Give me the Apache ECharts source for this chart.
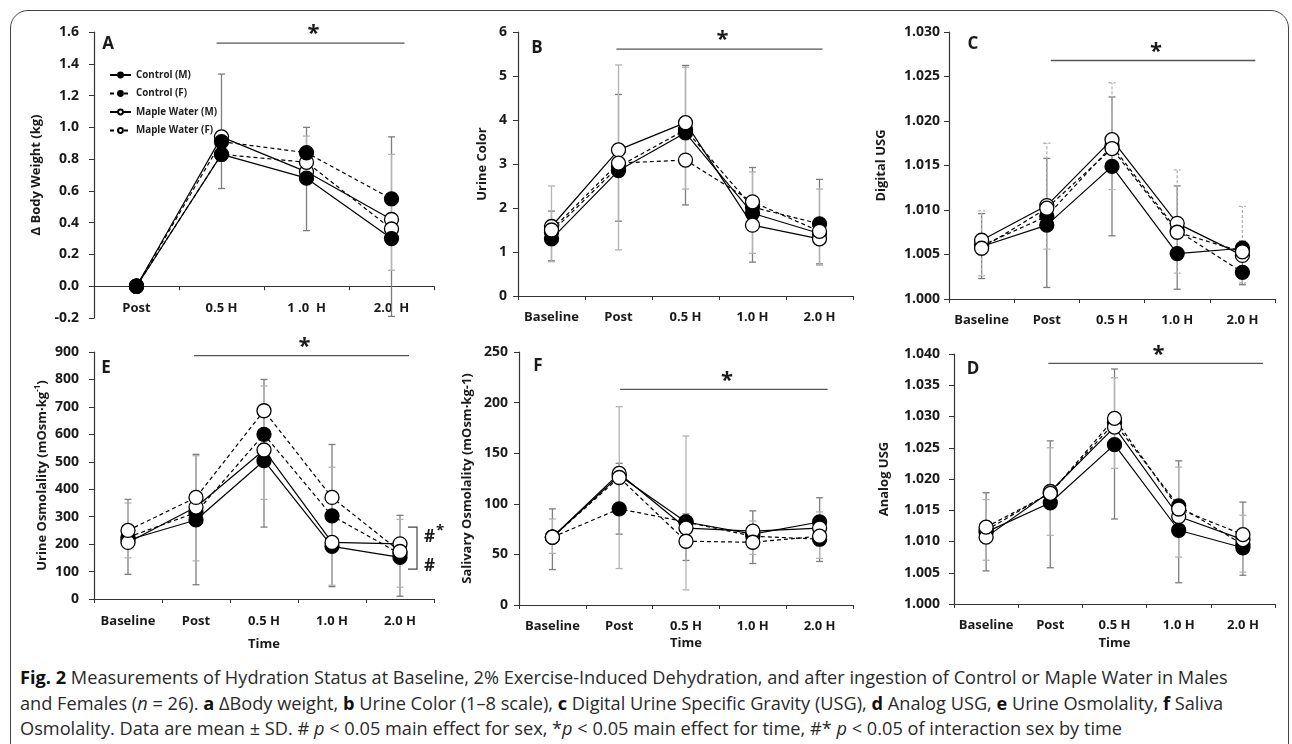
<!DOCTYPE html>
<html>
<head>
<meta charset="utf-8">
<script src="https://cdn.jsdelivr.net/npm/echarts@6/dist/echarts.min.js"></script>
<style>
  html, body { margin: 0; padding: 0; background: #fff; }
  #wrap { position: relative; width: 1292px; height: 744px; overflow: hidden; }
  #frame { position: absolute; left: 10px; top: 10px; width: 1279px; height: 800px;
           border: 1.4px solid #444; border-radius: 18px; box-sizing: border-box; }
  #chart { position: absolute; left: 0; top: 0; width: 1292px; height: 660px; }
  #cap { position: absolute; left: 20px; top: 665px; font-family: "Open Sans", sans-serif;
         font-size: 18.2px; line-height: 25.5px; color: #2a2a2a; white-space: nowrap; }
  #cap b { font-weight: bold; color: #111; }
</style>
</head>
<body>
<div id="wrap">
  <div id="frame"></div>
  <div id="chart"></div>
  <div id="cap">
    <b>Fig. 2</b> Measurements of Hydration Status at Baseline, 2% Exercise-Induced Dehydration, and after ingestion of Control or Maple Water in Males<br>
    and Females (<i>n</i> = 26). <b>a</b> ΔBody weight, <b>b</b> Urine Color (1–8 scale), <b>c</b> Digital Urine Specific Gravity (USG), <b>d</b> Analog USG, <b>e</b> Urine Osmolality, <b>f</b> Saliva<br>
    Osmolality. Data are mean ± SD. # <i>p</i> &lt; 0.05 main effect for sex, *<i>p</i> &lt; 0.05 main effect for time, #* <i>p</i> &lt; 0.05 of interaction sex by time
  </div>
</div>
<script>
// Series names (legend)
var seriesNames = ['Control (M)', 'Control (F)', 'Maple Water (M)', 'Maple Water (F)'];

// Categories
var catsA = ['Post', '0.5 H', '1 .0  H', '2.0  H'];
var cats = ['Baseline', 'Post', '0.5 H', '1.0 H', '2.0 H'];

// A - Body weight (kg); rows follow seriesNames
var weightMean = [
    [0, 0.83, 0.68, 0.30],
    [0, 0.91, 0.84, 0.55],
    [0, 0.94, 0.72, 0.42],
    [0, 0.83, 0.78, 0.36]
];
var weightErrDark = [null, [0.615, 1.335], [0.35, 1.0], [-0.19, 0.94]];
var weightErrLight = [null, null, [0.72, 0.945], [0.10, 0.83]];

// B - Urine color
var colorMean = [
    [1.30, 2.85, 3.71, 1.88, 1.42],
    [1.45, 2.94, 3.78, 2.02, 1.64],
    [1.58, 3.32, 3.94, 1.61, 1.30],
    [1.50, 3.02, 3.09, 2.14, 1.47]
];
var colorErrDark = [[0.80, 1.93], [1.70, 4.58], [2.07, 5.24], [0.77, 2.92], [0.73, 2.65]];
var colorErrLight = [[0.78, 2.50], [1.05, 5.25], [2.43, 5.20], [0.97, 2.82], [0.70, 2.43]];

// C - Digital USG
var digitalMean = [
    [1.0059, 1.0083, 1.0149, 1.0051, 1.0057],
    [1.0060, 1.0093, 1.0172, 1.0077, 1.0030],
    [1.0066, 1.0105, 1.0179, 1.0085, 1.0049],
    [1.0057, 1.0102, 1.0169, 1.0075, 1.0053]
];
var digitalErrDark = [[1.0023, 1.0096], [1.0013, 1.0158], [1.0071, 1.0227], [1.0011, 1.0127], [1.0016, 1.0065]];
var digitalErrLight = [[1.0026, 1.0099], [1.0056, 1.0175], [1.0123, 1.0243], [1.0029, 1.0145], [1.0018, 1.0104]];

// E - Urine osmolality
var urineOsmMean = [
    [215, 288, 504, 192, 152],
    [225, 315, 600, 303, 165],
    [206, 335, 543, 206, 201],
    [250, 370, 686, 370, 173]
];
var urineOsmErrDark = [[90, 363], [52, 527], [262, 800], [45, 563], [10, 305]];
var urineOsmErrLight = [[150, 350], [139, 522], [363, 776], [50, 480], [43, 290]];

// F - Salivary osmolality
var salivaOsmMean = [
    [67, 128, 82, 70, 82],
    [67, 95, 82, 68, 65],
    [67, 130, 76, 73, 76],
    [67, 126, 63, 62, 68]
];
var salivaOsmErrDark = [[35, 95], [70, 140], [44, 90], [41, 93], [43, 106]];
var salivaOsmErrLight = [[51, 85], [36, 196], [15, 167], [50, 83], [46, 92]];

// D - Analog USG
var analogMean = [
    [1.0115, 1.0162, 1.0255, 1.0118, 1.0090],
    [1.0118, 1.0178, 1.0290, 1.0157, 1.0095],
    [1.0107, 1.0180, 1.0283, 1.0140, 1.0103],
    [1.0123, 1.0177, 1.0297, 1.0152, 1.0111]
];
var analogErrDark = [[1.0053, 1.0178], [1.0058, 1.0261], [1.0136, 1.0376], [1.0034, 1.0229], [1.0046, 1.0163]];
var analogErrLight = [[1.0070, 1.0167], [1.0110, 1.0250], [1.0217, 1.0362], [1.0075, 1.0219], [1.0051, 1.0142]];

// Significance bars: [from category, to category, level]
var starA = [1, 3, 1.53];
var starB = [1, 4, 5.61];
var starC = [1, 4, 1.0268];
var starE = [1, 4, 887];
var starF = [1, 4, 213];
var starD = [1, 4, 1.0385];

var FONT = '"Open Sans", Arial, sans-serif';
var TXT = '#1a1a1a';

//
// Panel setup
//
var panels = [
    { letter: 'A', cats: catsA, mean: weightMean, dark: weightErrDark, light: weightErrLight,
      min: -0.2, max: 1.6, step: 0.2, dec: 1, yName: 'Δ Body Weight (kg)', yGap: 50, yMargin: 15,
      xMargin: 16, star: starA, starDx: [-5, 13], controlsOnTop: true,
      grid: { left: 94, top: 32, width: 340, height: 286 }, letterPos: [108, 44] },
    { letter: 'B', cats: cats, mean: colorMean, dark: colorErrDark, light: colorErrLight,
      min: 0, max: 6, step: 1, dec: 0, yName: 'Urine Color', yGap: 28, yMargin: 11,
      xMargin: 15, star: starB, starDx: [-2, 3],
      grid: { left: 518, top: 32, width: 335, height: 264 }, letterPos: [537, 48] },
    { letter: 'C', cats: cats, mean: digitalMean, dark: digitalErrDark, light: digitalErrLight, lightDashed: true,
      min: 1.000, max: 1.030, step: 0.005, dec: 3, yName: 'Digital USG', yGap: 60, yMargin: 9,
      xMargin: 15, star: starC, starDx: [4, 13],
      grid: { left: 949, top: 32, width: 326, height: 267 }, letterPos: [973, 44] },
    { letter: 'E', cats: cats, mean: urineOsmMean, dark: urineOsmErrDark, light: urineOsmErrLight,
      min: 0, max: 900, step: 100, dec: 0, yName: 'Urine Osmolality (mOsm·kg{sup|-1})', yGap: 44, yMargin: 15,
      xMargin: 16, xName: 'Time', xGap: 39, star: starE, starDx: [-2, 9],
      grid: { left: 94, top: 352, width: 340, height: 247 }, letterPos: [106, 368] },
    { letter: 'F', cats: cats, mean: salivaOsmMean, dark: salivaOsmErrDark, light: salivaOsmErrLight,
      min: 0, max: 250, step: 50, dec: 0, yName: 'Salivary Osmolality (mOsm·kg-1)', yGap: 44, yMargin: 11,
      xMargin: 15, xName: 'Time', xGap: 32, star: starF, starDx: [1, 8],
      grid: { left: 519, top: 352, width: 334, height: 253 }, letterPos: [538, 366] },
    { letter: 'D', cats: cats, mean: analogMean, dark: analogErrDark, light: analogErrLight,
      min: 1.000, max: 1.040, step: 0.005, dec: 3, yName: 'Analog USG', yGap: 62, yMargin: 14,
      xMargin: 15, xName: 'Time', xGap: 33, star: starD, starDx: [-2, 20],
      grid: { left: 954, top: 354, width: 321, height: 250 }, letterPos: [973, 369] }
];

// Error bar series (custom, drawn through the axes)
var errSeries = function (gi, ranges, color, dashed) {
    var data = [];
    ranges.forEach(function (r, i) {
        if (r) data.push([i, r[0], r[1]]);
    });
    return {
        type: 'custom',
        xAxisIndex: gi,
        yAxisIndex: gi,
        silent: true,
        z: 1,
        data: data,
        encode: { x: 0, y: [1, 2] },
        renderItem: function (params, api) {
            var lo = api.coord([api.value(0), api.value(1)]);
            var hi = api.coord([api.value(0), api.value(2)]);
            var w = 3.5;
            var st = { stroke: color, lineWidth: 1.3, lineDash: dashed ? [3, 2] : null };
            return {
                type: 'group',
                children: [
                    { type: 'line', shape: { x1: lo[0], y1: lo[1], x2: hi[0], y2: hi[1] }, style: st },
                    { type: 'line', shape: { x1: lo[0] - w, y1: lo[1], x2: lo[0] + w, y2: lo[1] }, style: st },
                    { type: 'line', shape: { x1: hi[0] - w, y1: hi[1], x2: hi[0] + w, y2: hi[1] }, style: st }
                ]
            };
        }
    };
};

var grids = [], xAxes = [], yAxes = [], series = [];

panels.forEach(function (p, gi) {
    grids.push(Object.assign({ outerBoundsMode: 'none', containLabel: false }, p.grid));

    // x axis sits on the zero line (panel A has negative values)
    var zeroShift = p.min < 0 ? -p.grid.height * (0 - p.min) / (p.max - p.min) : 0;

    xAxes.push({
        type: 'category',
        gridIndex: gi,
        data: p.cats,
        boundaryGap: true,
        offset: zeroShift,
        axisLine: { show: true, onZero: false, lineStyle: { color: '#333', width: 1.2 } },
        axisTick: { show: true, length: 4, lineStyle: { color: '#333', width: 1 } },
        axisLabel: { interval: 0, margin: p.xMargin, color: TXT, fontFamily: FONT, fontWeight: 'bold', fontSize: 13 },
        splitLine: { show: false },
        name: p.xName || '',
        nameLocation: 'middle',
        nameGap: p.xGap || 0,
        nameTextStyle: { color: TXT, fontFamily: FONT, fontWeight: 'bold', fontSize: 13 }
    });

    yAxes.push({
        type: 'value',
        gridIndex: gi,
        min: p.min,
        max: p.max,
        interval: p.step,
        axisLine: { show: true, lineStyle: { color: '#333', width: 1.2 } },
        axisTick: { show: true, length: 5, lineStyle: { color: '#333', width: 1 } },
        axisLabel: {
            margin: p.yMargin, color: TXT, fontFamily: FONT, fontWeight: 'bold', fontSize: 14,
            formatter: (function (dec) { return function (v) { return v.toFixed(dec); }; })(p.dec)
        },
        splitLine: { show: false },
        name: p.yName,
        nameLocation: 'middle',
        nameGap: p.yGap,
        nameRotate: 90,
        nameTextStyle: {
            color: TXT, fontFamily: FONT, fontWeight: 'bold', fontSize: 13, lineHeight: 16,
            rich: { sup: { fontSize: 8, fontFamily: FONT, fontWeight: 'bold', color: TXT, verticalAlign: 'top', lineHeight: 10 } }
        }
    });

    // Error bars first so lines sit on top
    series.push(errSeries(gi, p.dark, '#7d7d7d', false));
    series.push(errSeries(gi, p.light, '#b3b3b3', !!p.lightDashed));

    p.mean.forEach(function (vals, si) {
        var filled = si < 2;
        var dashed = si % 2 === 1;
        series.push({
            name: seriesNames[si],
            type: 'line',
            xAxisIndex: gi,
            yAxisIndex: gi,
            data: vals,
            symbol: 'circle',
            symbolSize: 14,
            showAllSymbol: true,
            z: p.controlsOnTop ? (filled ? 4 : 3) : (filled ? 3 : 4),
            lineStyle: { color: '#000', width: 1.2, type: dashed ? [4, 3] : 'solid' },
            itemStyle: { color: filled ? '#000' : '#fff', borderColor: '#000', borderWidth: 1.3 },
            emphasis: { disabled: true },
            silent: true
        });
    });
});

var chart = echarts.init(document.getElementById('chart'));

chart.setOption({
    animation: false,
    textStyle: { fontFamily: FONT },
    legend: {
        orient: 'vertical',
        left: 104,
        top: 64,
        itemWidth: 21,
        itemHeight: 6,
        itemGap: 6.5,
        selectedMode: false,
        data: seriesNames,
        textStyle: { fontFamily: FONT, fontWeight: 'bold', fontSize: 9.8, color: '#222', lineHeight: 12 }
    },
    grid: grids,
    xAxis: xAxes,
    yAxis: yAxes,
    series: series
});

//
// Annotations: panel letters, significance bars, sex bracket
//
var graphics = [];
panels.forEach(function (p, gi) {
    var finder = { xAxisIndex: gi, yAxisIndex: gi };
    graphics.push({
        type: 'text', x: p.letterPos[0], y: p.letterPos[1], silent: true,
        style: { text: p.letter, align: 'center', verticalAlign: 'middle', fill: TXT,
                 font: 'bold 17px ' + FONT }
    });
    var a = chart.convertToPixel(finder, [p.star[0], p.star[2]]);
    var b = chart.convertToPixel(finder, [p.star[1], p.star[2]]);
    var x1 = a[0] + p.starDx[0], x2 = b[0] + p.starDx[1];
    graphics.push({
        type: 'line', silent: true,
        shape: { x1: x1, y1: a[1], x2: x2, y2: a[1] },
        style: { stroke: '#555', lineWidth: 1.3 }
    });
    graphics.push({
        type: 'text', x: (x1 + x2) / 2 + 3, y: a[1] - 9, silent: true,
        style: { text: '*', align: 'center', verticalAlign: 'middle', fill: TXT, font: 'bold 22px ' + FONT }
    });
});

// Bracket next to 2.0 H in panel E
var eIdx = 3;
var bTop = chart.convertToPixel({ xAxisIndex: eIdx, yAxisIndex: eIdx }, [4, 262]);
var bBot = chart.convertToPixel({ xAxisIndex: eIdx, yAxisIndex: eIdx }, [4, 109]);
graphics.push({
    type: 'polyline', silent: true,
    shape: { points: [[bTop[0] + 8, bTop[1]], [bTop[0] + 17, bTop[1]], [bTop[0] + 17, bBot[1]], [bTop[0] + 8, bBot[1]]] },
    style: { stroke: '#444', lineWidth: 1.2, fill: null }
});
var tHi = chart.convertToPixel({ xAxisIndex: eIdx, yAxisIndex: eIdx }, [4, 225]);
var tLo = chart.convertToPixel({ xAxisIndex: eIdx, yAxisIndex: eIdx }, [4, 120]);
graphics.push({
    type: 'text', x: tHi[0] + 24, y: tHi[1], silent: true,
    style: { text: '#', align: 'left', verticalAlign: 'middle', fill: TXT, font: 'bold 17px ' + FONT }
});
graphics.push({
    type: 'text', x: tHi[0] + 36, y: tHi[1] - 7, silent: true,
    style: { text: '*', align: 'left', verticalAlign: 'middle', fill: TXT, font: 'bold 15px ' + FONT }
});
graphics.push({
    type: 'text', x: tLo[0] + 24, y: tLo[1], silent: true,
    style: { text: '#', align: 'left', verticalAlign: 'middle', fill: TXT, font: 'bold 17px ' + FONT }
});

chart.setOption({ graphic: graphics });
</script>
</body>
</html>
